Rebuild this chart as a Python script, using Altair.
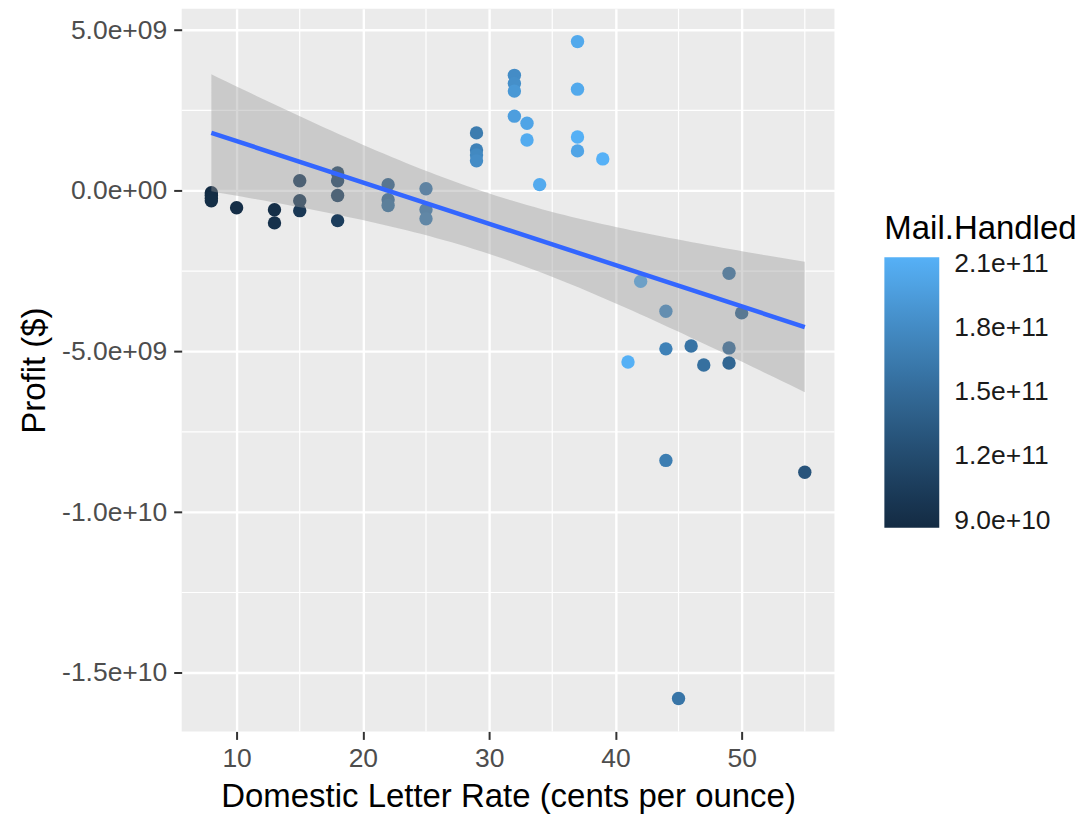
import math
import numpy as np
import pandas as pd
import altair as alt

# ---- data (four overlapping points at 8 cents) ----
rate = [8, 8, 8, 8, 10, 13, 13, 15, 15, 15, 18, 18, 18, 18, 22, 22, 22, 25, 25, 25,
        29, 29, 29, 29, 32, 32, 32, 32, 33, 33, 34, 37, 37, 37, 37, 39, 41, 42,
        44, 44, 44, 45, 46, 47, 49, 49, 49, 50, 55]
profit_bn = [-0.06, -0.14, -0.23, -0.31, -0.53, -0.59, -1.0, 0.31, -0.31, -0.62,
             0.55, 0.31, -0.15, -0.93, 0.19, -0.28, -0.46, 0.06, -0.59, -0.87,
             1.8, 1.27, 1.11, 0.93, 3.59, 3.34, 3.1, 2.32, 2.1, 1.58, 0.19, 4.64,
             3.16, 1.67, 1.24, 0.99, -5.33, -2.82, -3.75, -4.92, -8.39, -15.8,
             -4.83, -5.42, -2.57, -4.89, -5.36, -3.8, -8.76]
mail_bn = [86.7, 87.5, 88.5, 89.5, 90, 91, 93, 106, 102, 100, 114, 112, 110, 106,
           140, 147, 153, 161, 162, 166, 166, 171, 178, 181, 181, 183, 191, 197,
           202, 208, 207, 206, 206, 212, 202, 213, 212, 203, 177, 171, 168, 160,
           158, 155, 154, 150, 146, 143, 129]

x_major = [10, 20, 30, 40, 50]
x_minor = [15, 25, 35, 45, 55]
y_major = [5e9, 0, -5e9, -1e10, -1.5e10]
y_minor = [2.5e9, -2.5e9, -7.5e9, -1.25e10]
legend_values = [9e10, 1.2e11, 1.5e11, 1.8e11, 2.1e11]

df = pd.DataFrame({
    "Rate": rate,
    "Profit": [p * 1e9 for p in profit_bn],
    "Mail": [m * 1e9 for m in mail_bn],
})

# ---- linear fit with 95% confidence band (like geom_smooth(method="lm")) ----
def t_ppf(p, dof):
    c = math.gamma((dof + 1) / 2) / (math.sqrt(dof * math.pi) * math.gamma(dof / 2))
    ts = np.linspace(0, 12, 240001)
    pdf = c * (1 + ts ** 2 / dof) ** (-(dof + 1) / 2)
    cdf = 0.5 + np.concatenate([[0.0], np.cumsum((pdf[1:] + pdf[:-1]) / 2 * np.diff(ts))])
    return float(np.interp(p, cdf, ts))

xv = df["Rate"].to_numpy(float)
yv = df["Profit"].to_numpy(float)
n = len(xv)
X = np.column_stack([np.ones(n), xv])
beta = np.linalg.lstsq(X, yv, rcond=None)[0]
resid = yv - X @ beta
s2 = resid @ resid / (n - 2)
xtx_inv = np.linalg.inv(X.T @ X)
grid = np.linspace(xv.min(), xv.max(), 80)
G = np.column_stack([np.ones(len(grid)), grid])
fit = G @ beta
se = np.sqrt(s2 * np.einsum("ij,jk,ik->i", G, xtx_inv, G))
tq = t_ppf(0.975, n - 2)
band = pd.DataFrame({"Rate": grid, "lo": fit - tq * se, "hi": fit + tq * se})

# ggplot-like 5% expansion
xspan = xv.max() - xv.min()
xdom = [xv.min() - 0.05 * xspan, xv.max() + 0.05 * xspan]
ylo = min(yv.min(), band["lo"].min())
yhi = max(yv.max(), band["hi"].max())
yspan = yhi - ylo
ydom = [ylo - 0.05 * yspan, yhi + 0.05 * yspan]

FONT = "Liberation Sans"
xscale = alt.Scale(domain=xdom, nice=False, zero=False)
yscale = alt.Scale(domain=ydom, nice=False, zero=False)

common_axis = dict(
    grid=True, gridColor="white", gridWidth=2.4, domain=False,
    ticks=True, tickColor="#333333", tickWidth=2, tickSize=8,
    labelFontSize=26.5, labelColor="#4D4D4D", labelFont=FONT,
    titleFontSize=33, titleColor="black", titleFontWeight="normal", titleFont=FONT,
)
x_axis = alt.Axis(values=x_major, format="d", labelPadding=6, titlePadding=9,
                  title="Domestic Letter Rate (cents per ounce)", **common_axis)
y_axis = alt.Axis(
    values=y_major, labelPadding=7, titlePadding=10, title="Profit ($)",
    labelExpr=("replace(replace(replace(format(datum.value, '.1e'), '\u2212', '-'), "
               "regexp('e[+]([0-9])$'), 'e+0$1'), regexp('e-([0-9])$'), 'e-0$1')"),
    **common_axis,
)

X_ENC = alt.X("Rate:Q", scale=xscale, axis=x_axis)
Y_ENC = alt.Y("Profit:Q", scale=yscale, axis=y_axis)

minor_v = alt.Chart(pd.DataFrame({"Rate": x_minor})).mark_rule(
    color="white", strokeWidth=1.2).encode(x=X_ENC)
minor_h = alt.Chart(pd.DataFrame({"Profit": y_minor})).mark_rule(
    color="white", strokeWidth=1.2).encode(y=Y_ENC)

points = alt.Chart(df).mark_circle(size=180, opacity=1).encode(
    x=X_ENC,
    y=Y_ENC,
    color=alt.Color(
        "Mail:Q",
        scale=alt.Scale(range=["#132B43", "#56B1F7"], interpolate="lab"),
        legend=alt.Legend(
            title="Mail.Handled", values=legend_values, format=".1e",
            orient="none", legendX=704, legendY=205, padding=0,
            direction="vertical", titleLimit=500,
            gradientLength=271, gradientThickness=55, gradientStrokeWidth=0,
            labelOffset=15, labelFontSize=26.5, labelColor="#1A1A1A", labelFont=FONT,
            titleFontSize=33, titleFontWeight="normal", titleColor="black",
            titleFont=FONT, titlePadding=11,
        ),
    ),
)

ribbon = alt.Chart(band).mark_area(color="#999999", opacity=0.4).encode(
    x=X_ENC,
    y=alt.Y("lo:Q", scale=yscale, axis=y_axis),
    y2="hi:Q",
)

line = alt.Chart(df).transform_regression("Rate", "Profit").mark_line(
    color="#3366FF", strokeWidth=4.5).encode(x=X_ENC, y=Y_ENC)

chart = alt.layer(minor_v, minor_h, points, ribbon, line).properties(
    width=654, height=724,
    autosize=alt.AutoSizeParams(type="none"),
    padding={"left": 174, "top": 0, "right": 250, "bottom": 94},
).configure(font=FONT).configure_view(fill="#EBEBEB", strokeWidth=0)

chart.save("out.html", embed_options={"renderer": "svg", "actions": False})
